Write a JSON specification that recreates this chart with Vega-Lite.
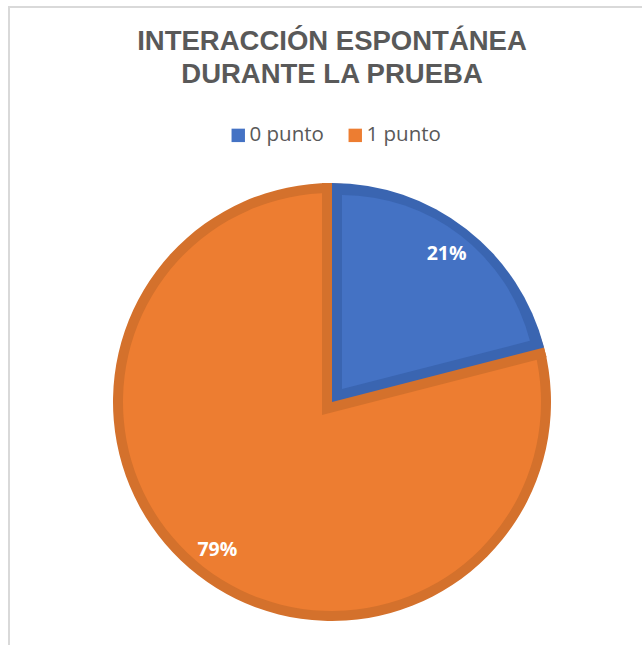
{
  "$schema": "https://vega.github.io/schema/vega-lite/v6.json",
  "width": 646,
  "height": 790,
  "autosize": {"type": "none"},
  "padding": {"left": 9, "top": 7, "right": 0, "bottom": 0},
  "background": "white",
  "view": {"stroke": "#d9d9d9", "strokeWidth": 2, "fill": "white"},
  "config": {
    "view": {"stroke": "#d9d9d9", "strokeWidth": 2},
    "legend": {
      "orient": "none",
      "legendX": 219,
      "legendY": 118,
      "direction": "horizontal",
      "symbolType": "square",
      "symbolSize": 180,
      "symbolStrokeWidth": 0,
      "symbolOpacity": 1,
      "labelFont": "Open Sans",
      "labelFontSize": 20.5,
      "labelColor": "#595959",
      "labelOffset": 1,
      "columnPadding": 21
    }
  },
  "title": {
    "text": ["INTERACCIÓN ESPONTÁNEA", "DURANTE LA PRUEBA"],
    "font": "Liberation Sans",
    "fontSize": 27.5,
    "fontWeight": "bold",
    "color": "#595959",
    "lineHeight": 32.5,
    "anchor": "middle",
    "frame": "group",
    "baseline": "alphabetic",
    "offset": -103
  },
  "data": {
    "values": [
      {"categoria": "0 punto", "pct": 0.21},
      {"categoria": "1 punto", "pct": 0.79}
    ]
  },
  "transform": [
    {"stack": "pct", "groupby": [], "as": ["p0", "p1"], "sort": [{"field": "categoria", "order": "ascending"}]}
  ],
  "layer": [
    {
      "transform": [{"filter": "datum.categoria === '1 punto'"}],
      "mark": {"type": "arc", "outerRadius": 219, "fill": "#d4712c"},
      "encoding": {
        "theta": {"field": "p0", "type": "quantitative", "scale": {"domain": [0, 1]}},
        "theta2": {"field": "p1"}
      }
    },
    {
      "transform": [{"filter": "datum.categoria === '1 punto'"}],
      "mark": {"type": "arc", "outerRadius": 209},
      "encoding": {
        "theta": {"field": "p0", "type": "quantitative", "scale": {"domain": [0, 1]}},
        "theta2": {"field": "p1"},
        "color": {"field": "categoria", "type": "nominal", "title": null, "scale": {"domain": ["0 punto", "1 punto"], "range": ["#4472c4", "#ed7d31"]}}
      }
    },
    {
      "transform": [{"filter": "datum.categoria === '0 punto'"}],
      "mark": {"type": "arc", "outerRadius": 232, "xOffset": -10, "yOffset": 12.9, "fill": "#d4712c"},
      "encoding": {
        "theta": {"field": "p0", "type": "quantitative", "scale": {"domain": [0, 1]}},
        "theta2": {"field": "p1"}
      }
    },
    {
      "transform": [{"filter": "datum.categoria === '0 punto'"}],
      "mark": {"type": "arc", "outerRadius": 219, "fill": "#3a65b1"},
      "encoding": {
        "theta": {"field": "p0", "type": "quantitative", "scale": {"domain": [0, 1]}},
        "theta2": {"field": "p1"}
      }
    },
    {
      "transform": [{"filter": "datum.categoria === '0 punto'"}],
      "mark": {"type": "arc", "outerRadius": 194, "xOffset": 10, "yOffset": -12.9},
      "encoding": {
        "theta": {"field": "p0", "type": "quantitative", "scale": {"domain": [0, 1]}},
        "theta2": {"field": "p1"},
        "color": {"field": "categoria", "type": "nominal", "title": null, "scale": {"domain": ["0 punto", "1 punto"], "range": ["#4472c4", "#ed7d31"]}}
      }
    },
    {
      "mark": {"type": "text", "radius": 187, "font": "Open Sans", "fontWeight": "bold", "fontSize": 19.5, "fill": "white", "align": "center", "baseline": "middle"},
      "encoding": {
        "theta": {"field": "pct", "type": "quantitative", "stack": true, "scale": {"domain": [0, 1]}},
        "text": {"field": "pct", "type": "quantitative", "format": ".0%"}
      }
    }
  ]
}
